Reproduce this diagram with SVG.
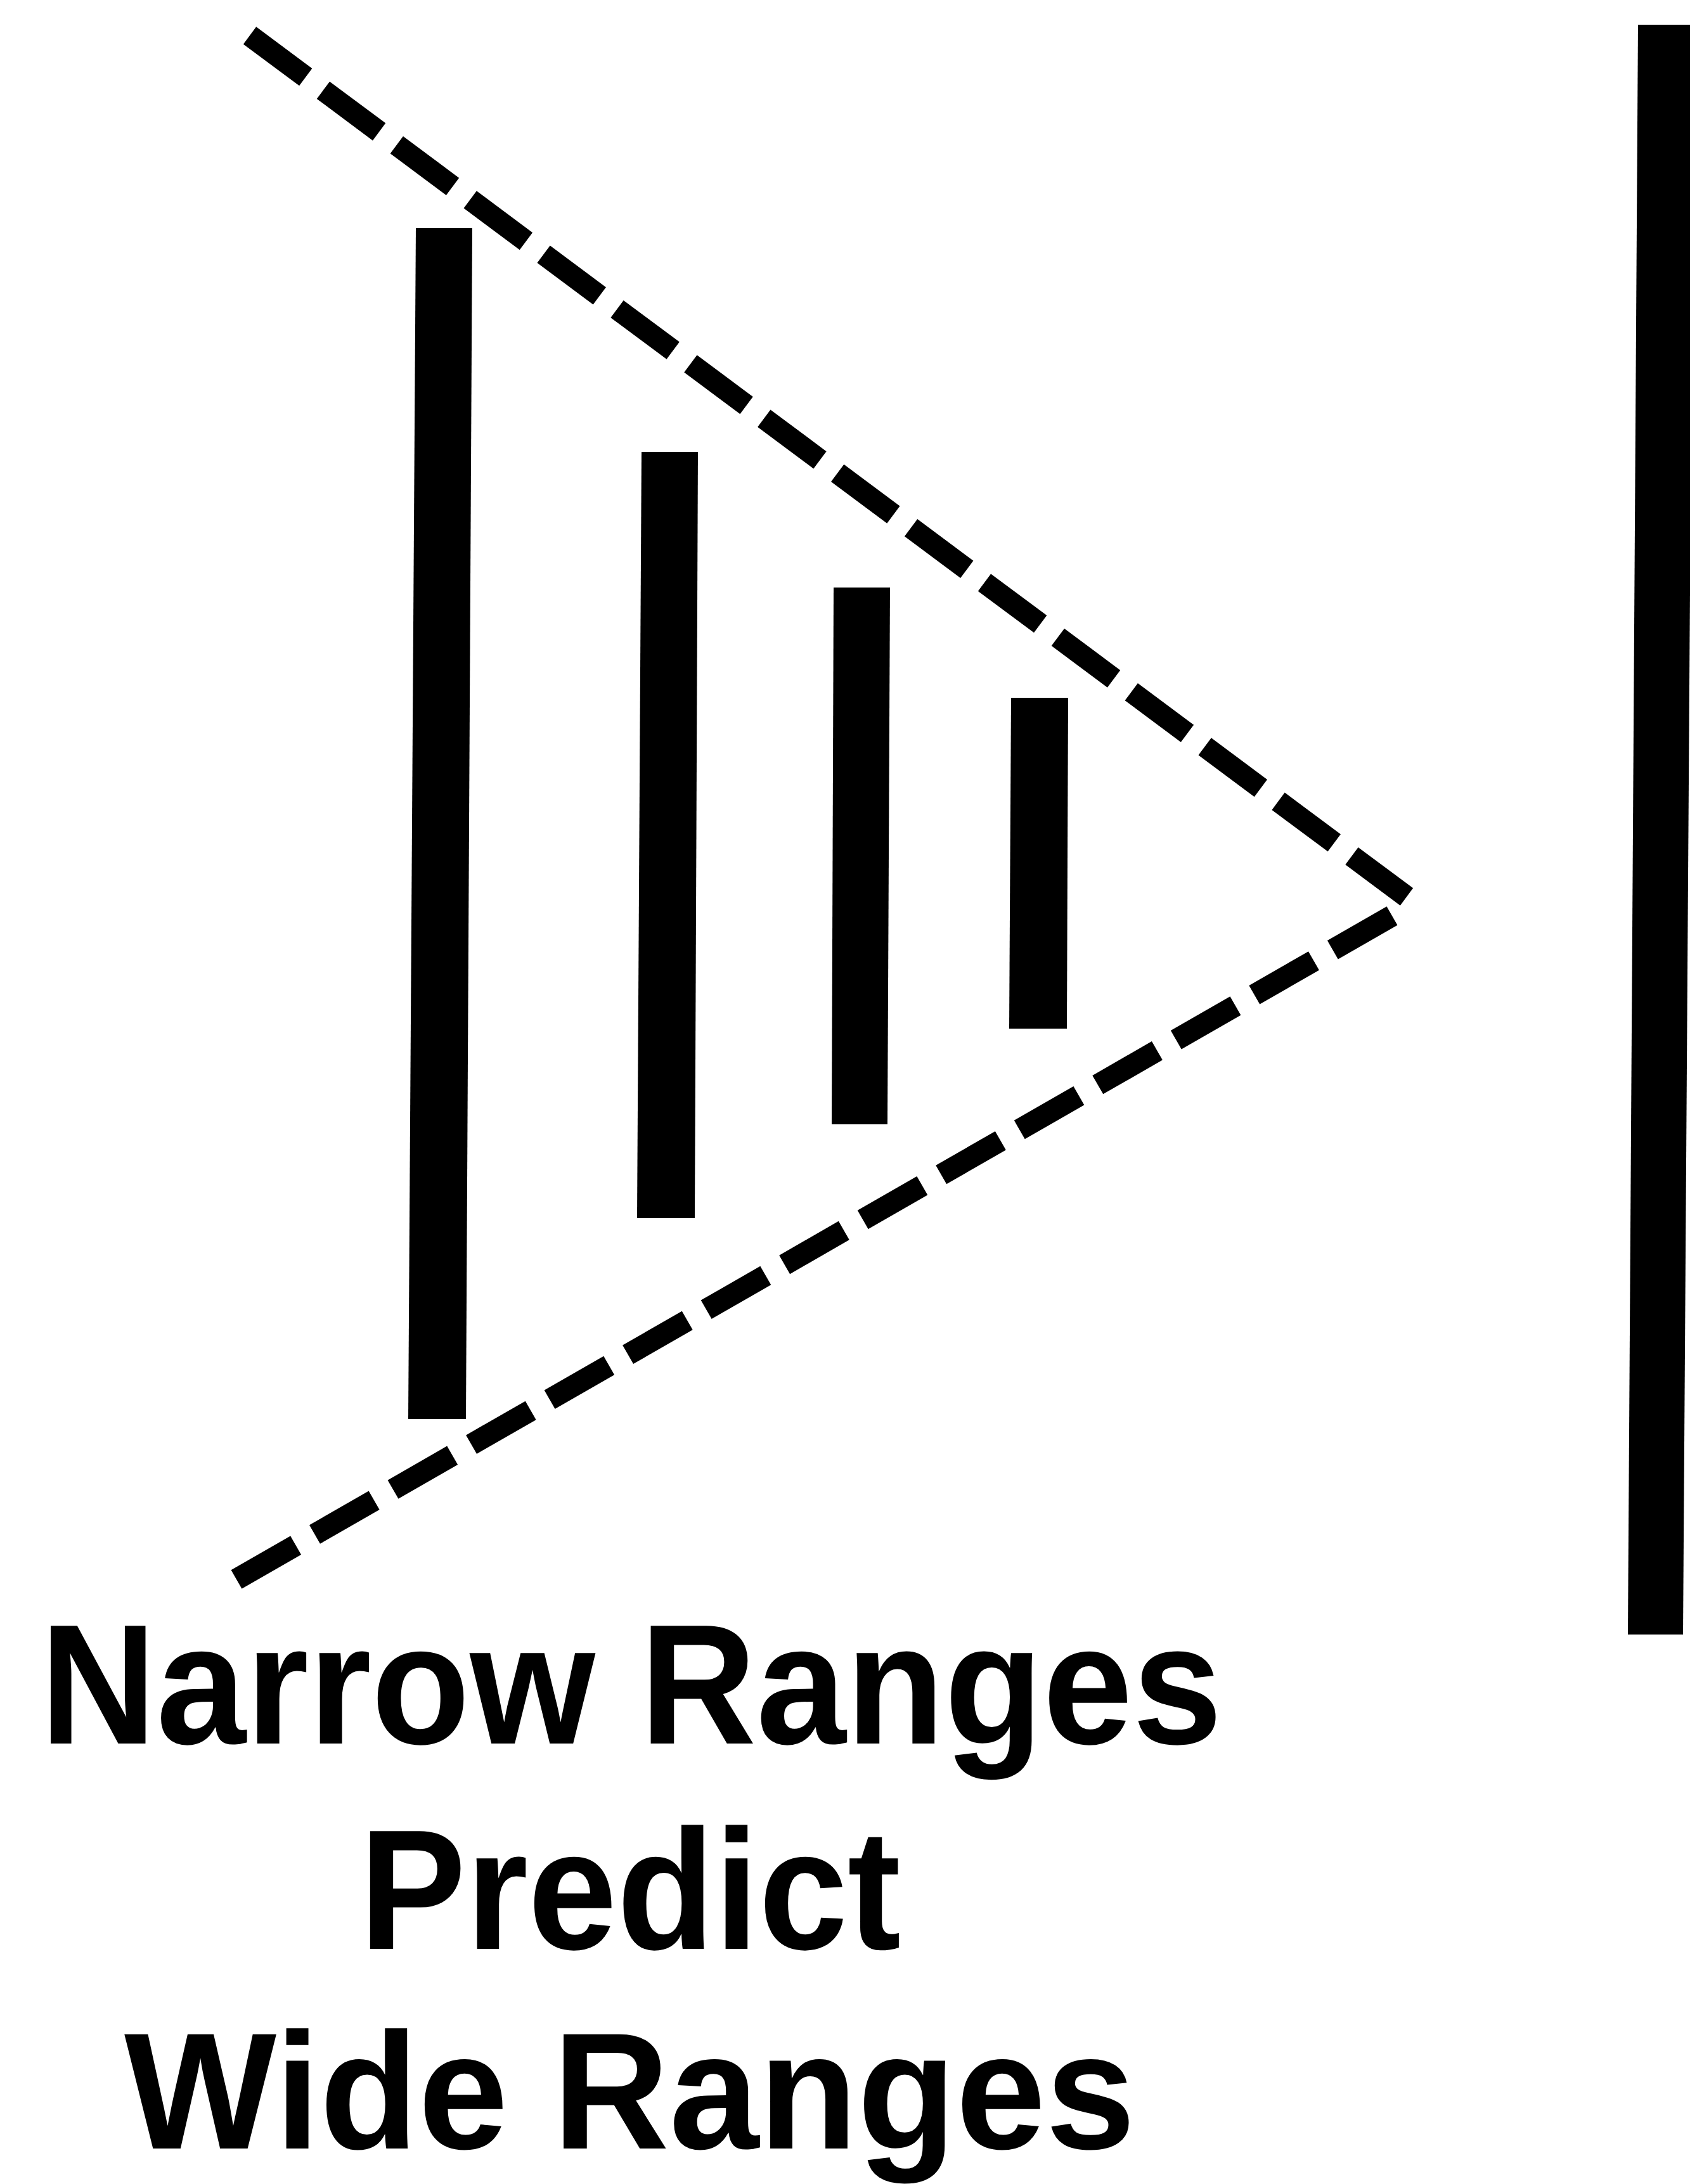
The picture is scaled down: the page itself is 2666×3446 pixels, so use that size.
<svg xmlns="http://www.w3.org/2000/svg" width="2666" height="3446" viewBox="0 0 2666 3446">
<style>
.bar{fill:#000}
.dash{fill:none;stroke:#000;stroke-width:34;stroke-linecap:butt}
.lbl{font-family:"Liberation Sans",Arial,Helvetica,sans-serif;font-weight:bold;fill:#000}
</style>
<rect width="2666" height="3446" fill="#fff"/>
<g id="bar1"><polygon class="bar" points="656,360 745,360 735,2239 644,2239"/></g>
<g id="bar2"><polygon class="bar" points="1012,713 1101,713 1096,1922 1005,1922"/></g>
<g id="bar3"><polygon class="bar" points="1315,927 1404,927 1400,1774 1312,1774"/></g>
<g id="bar4"><polygon class="bar" points="1595,1101 1685,1101 1683,1623 1592,1623"/></g>
<g id="bigbar"><polygon class="bar" points="2584,39 2672,39 2655,2579 2568,2579"/></g>
<g id="connectors">
<line class="dash" x1="394" y1="56" x2="2219" y2="1415" stroke-dasharray="110 34.5"/>
<line class="dash" x1="2196" y1="1445" x2="373" y2="2492" stroke-dasharray="108 34.45"/>
</g>
<g id="label">
<text class="lbl" font-size="270" x="63" y="2751" textLength="1865" lengthAdjust="spacingAndGlyphs">Narrow Ranges</text>
<text class="lbl" font-size="270" x="567" y="3075" textLength="854" lengthAdjust="spacingAndGlyphs">Predict</text>
<text class="lbl" font-size="262" x="196" y="3390" textLength="1595" lengthAdjust="spacingAndGlyphs">Wide Ranges</text>
</g>
</svg>
